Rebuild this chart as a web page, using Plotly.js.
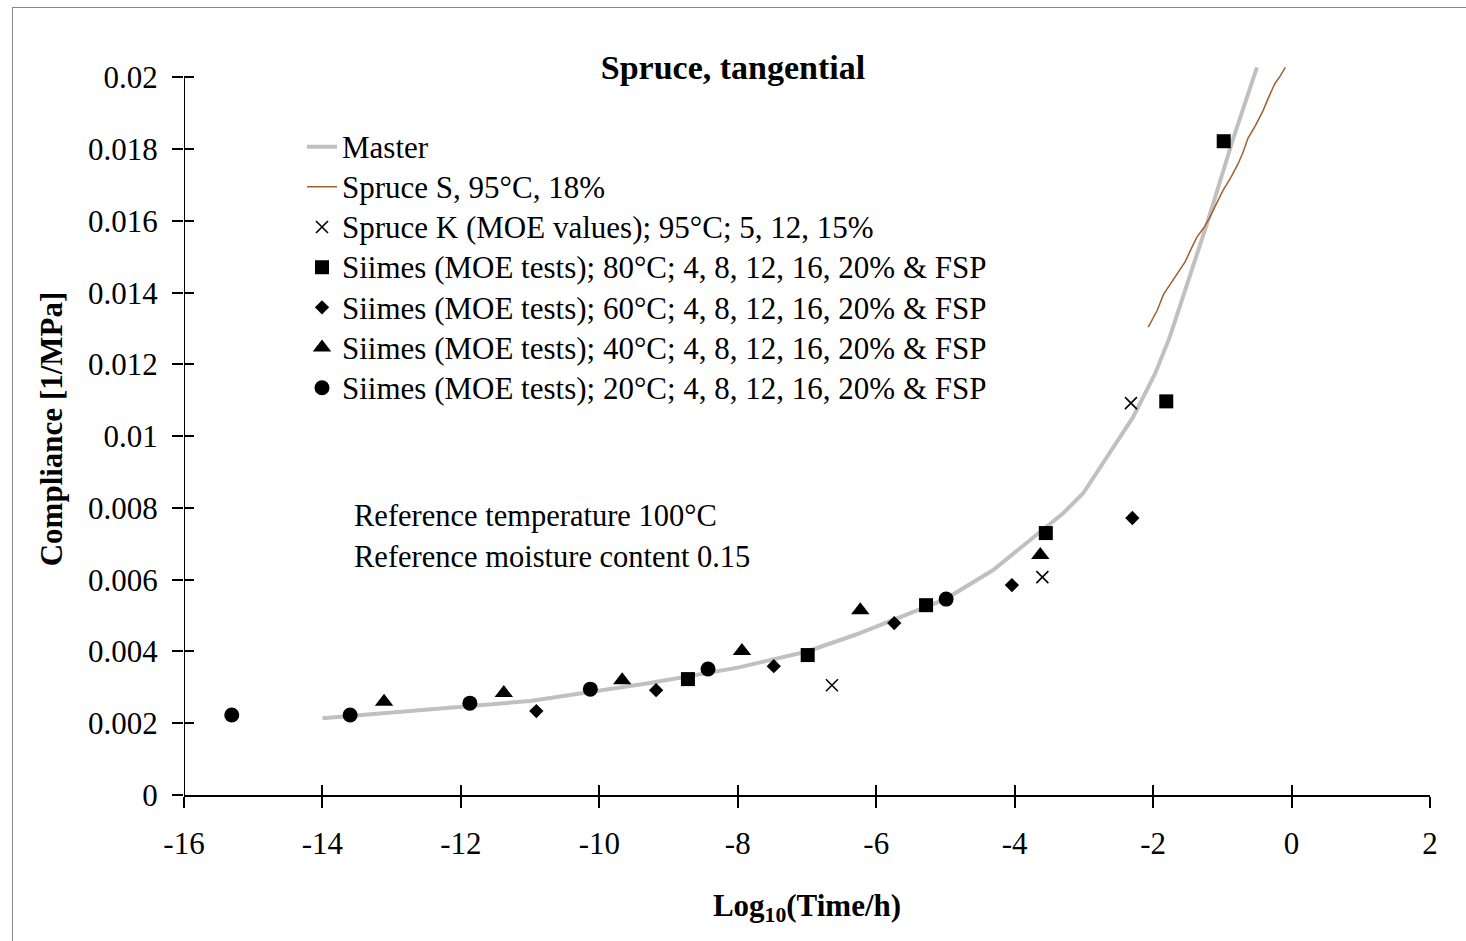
<!DOCTYPE html>
<html>
<head>
<meta charset="utf-8">
<script src="https://cdn.plot.ly/plotly-3.0.1.min.js"></script>
<style>
html,body{margin:0;padding:0;background:#fff;}
#wrap{position:relative;width:1466px;height:941px;overflow:hidden;}
#frame{position:absolute;left:12px;top:7px;width:1470px;height:950px;border:1.5px solid #888;box-sizing:border-box;pointer-events:none;}
#chart{position:absolute;left:0;top:0;width:1466px;height:941px;}
</style>
</head>
<body>
<div id="wrap"><div id="chart"></div><div id="frame"></div></div>
<script>
// Master curve
const masterX = [-14.0, -12.3, -11.0, -9.27, -8.0, -7.0, -6.28, -5.0, -4.31, -3.30, -3.01, -2.29, -1.97, -1.76, -1.22, -0.85, -0.50];
const masterY = [0.00214, 0.0024, 0.00262, 0.00312, 0.00355, 0.0040, 0.00448, 0.00546, 0.00627, 0.00785, 0.00841, 0.01053, 0.01175, 0.01276, 0.01593, 0.01825, 0.02028];
// Spruce S, 95°C, 18%
const spruceSX = [-2.07, -2.02, -1.94, -1.85, -1.71, -1.62, -1.54, -1.45, -1.37, -1.27, -1.18, -1.08, -0.99, -0.88, -0.77, -0.70, -0.63, -0.52, -0.41, -0.33, -0.24, -0.16, -0.09];
const spruceSY = [0.01304, 0.01322, 0.01351, 0.01395, 0.01435, 0.01462, 0.01485, 0.01522, 0.01554, 0.01580, 0.01610, 0.01650, 0.01685, 0.01720, 0.01760, 0.01792, 0.01830, 0.01866, 0.01908, 0.01945, 0.01983, 0.02005, 0.02028];
// Spruce K (MOE values)
const spruceKX = [-6.64, -3.60, -2.32];
const spruceKY = [0.00306, 0.00607, 0.01092];
// Siimes 80°C
const s80X = [-8.72, -6.99, -5.28, -3.55, -1.81, -0.98];
const s80Y = [0.00323, 0.0039, 0.00529, 0.0073, 0.01097, 0.01822];
// Siimes 60°C
const s60X = [-10.91, -9.18, -7.48, -5.74, -4.04, -2.30];
const s60Y = [0.00234, 0.00292, 0.00359, 0.00479, 0.00585, 0.00772];
// Siimes 40°C
const s40X = [-13.11, -11.38, -9.67, -7.94, -6.23, -3.63];
const s40Y = [0.0026, 0.00284, 0.0032, 0.00401, 0.00515, 0.00669];
// Siimes 20°C
const s20X = [-15.31, -13.60, -11.87, -10.13, -8.43, -4.99];
const s20Y = [0.00223, 0.00223, 0.00256, 0.00295, 0.00351, 0.00546];

const xTicks = [-16, -14, -12, -10, -8, -6, -4, -2, 0, 2];
const yTicks = [0, 0.002, 0.004, 0.006, 0.008, 0.01, 0.012, 0.014, 0.016, 0.018, 0.02];
const yTickText = ['0', '0.002', '0.004', '0.006', '0.008', '0.01', '0.012', '0.014', '0.016', '0.018', '0.02'];

const FONT = 'Liberation Serif, Times New Roman, serif';
const names = {
  master: 'Master',
  s: 'Spruce S, 95°C, 18%',
  k: 'Spruce K (MOE values); 95°C; 5, 12, 15%',
  s80: 'Siimes (MOE tests); 80°C; 4, 8, 12, 16, 20% & FSP',
  s60: 'Siimes (MOE tests); 60°C; 4, 8, 12, 16, 20% & FSP',
  s40: 'Siimes (MOE tests); 40°C; 4, 8, 12, 16, 20% & FSP',
  s20: 'Siimes (MOE tests); 20°C; 4, 8, 12, 16, 20% & FSP'
};
const big = t => '<span style="font-size:31px">' + t + '</span>';

const traces = [
  {x: masterX, y: masterY, mode: 'lines', name: big(names.master), line: {color: '#c0c0c0', width: 4}},
  {x: spruceSX, y: spruceSY, mode: 'lines', name: big(names.s), line: {color: '#a0602a', width: 1.5}},
  {x: spruceKX, y: spruceKY, mode: 'markers', name: big(names.k), marker: {symbol: 'x-thin-open', size: 12, color: '#000', line: {width: 1.6, color: '#000'}}},
  {x: s80X, y: s80Y, mode: 'markers', name: big(names.s80), marker: {symbol: 'square', size: 14, color: '#000'}},
  {x: s60X, y: s60Y, mode: 'markers', name: big(names.s60), marker: {symbol: 'diamond', size: 11, color: '#000'}},
  {x: s40X, y: s40Y, mode: 'markers', name: big(names.s40), marker: {symbol: 'triangle-up', size: 16, color: '#000'}},
  {x: s20X, y: s20Y, mode: 'markers', name: big(names.s20), marker: {symbol: 'circle', size: 15, color: '#000'}},
  {x: [], y: [], xaxis: 'x2', yaxis: 'y2', showlegend: false, hoverinfo: 'skip'}
];

const axFont = {family: FONT, size: 31, color: '#000'};
const layout = {
  width: 1466, height: 941,
  margin: {l: 184, r: 36, t: 62.6, b: 146, pad: 0},
  paper_bgcolor: 'rgba(0,0,0,0)', plot_bgcolor: 'rgba(0,0,0,0)',
  showlegend: true,
  title: {text: '<b>Spruce, tangential</b>', font: {family: FONT, size: 34, color: '#000'}, x: 0.5, xanchor: 'center', y: 0.929, yanchor: 'middle'},
  xaxis: {
    range: [-16, 2], tickvals: xTicks, ticktext: xTicks.map(v => v < 0 ? '-' + Math.abs(v) : String(v)),
    showgrid: false, zeroline: false, showline: true, linecolor: '#000', linewidth: 2,
    ticks: 'outside', ticklen: 11, tickwidth: 2, tickcolor: '#000', tickfont: axFont, ticklabelstandoff: 9,
    title: {text: '<b>Log<sub>10</sub>(Time/h)</b>', font: {family: FONT, size: 31, color: '#000'}, standoff: 34}
  },
  yaxis: {
    range: [0, 0.0204], tickvals: yTicks, ticktext: yTickText,
    showgrid: false, zeroline: false, showline: false,
    ticks: 'outside', ticklen: 11, tickwidth: 2, tickcolor: '#000', tickfont: axFont, ticklabelstandoff: 8,
    title: {text: '<b>Compliance [1/MPa]</b>', font: {family: FONT, size: 31, color: '#000'}, standoff: 16}
  },
  xaxis2: {overlaying: 'x', range: [-16, 2], tickvals: xTicks, ticks: 'inside', ticklen: 10, tickwidth: 2, tickcolor: '#000', showticklabels: false, showgrid: false, zeroline: false, showline: false, side: 'bottom'},
  yaxis2: {overlaying: 'y', range: [0, 0.0204], tickvals: yTicks, ticks: 'inside', ticklen: 10, tickwidth: 2, tickcolor: '#000', showticklabels: false, showgrid: false, zeroline: false, showline: false, side: 'left'},
  shapes: [
    {type: 'line', xref: 'x', yref: 'y', x0: -16, x1: -16, y0: 0, y1: 0.02, line: {color: '#000', width: 2}}
  ],
  legend: {
    x: (302 - 184) / 1246, y: 0.92, xanchor: 'left', yanchor: 'top',
    bgcolor: 'rgba(0,0,0,0)', borderwidth: 0,
    font: {family: FONT, size: 28.6, color: '#000'},
    tracegroupgap: 0, itemwidth: 30
  },
  annotations: [
    {xref: 'paper', yref: 'paper', x: (352 - 184) / 1246, y: (795 - 516) / 732.4, xanchor: 'left', yanchor: 'middle', showarrow: false, align: 'left',
     text: 'Reference temperature 100°C', font: {family: FONT, size: 30.5, color: '#000'}},
    {xref: 'paper', yref: 'paper', x: (352 - 184) / 1246, y: (795 - 557) / 732.4, xanchor: 'left', yanchor: 'middle', showarrow: false, align: 'left',
     text: 'Reference moisture content 0.15', font: {family: FONT, size: 30.5, color: '#000'}}
  ]
};

Plotly.newPlot('chart', traces, layout, {displayModeBar: false, staticPlot: true});
</script>
</body>
</html>
